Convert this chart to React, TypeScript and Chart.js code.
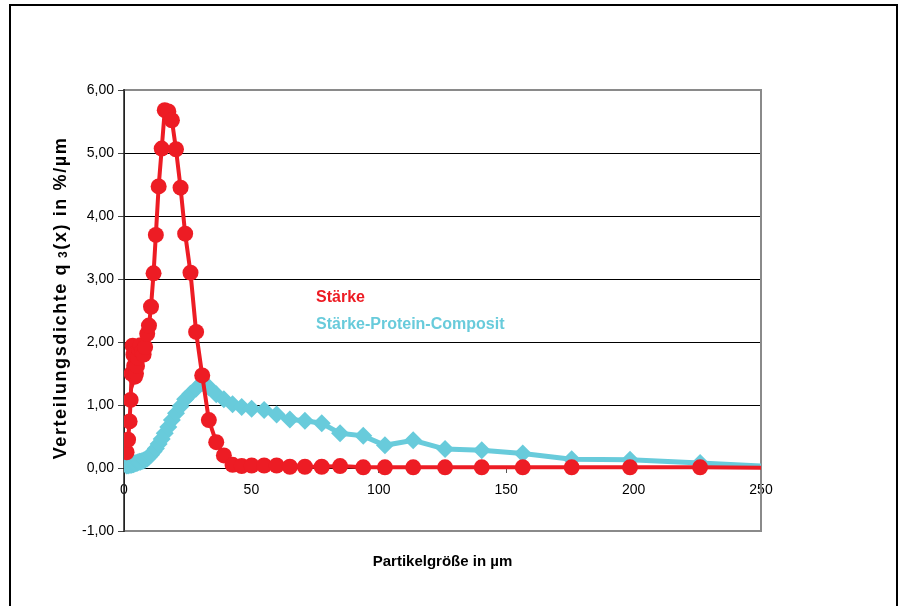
import React, { useEffect, useRef } from 'react';
import { Chart, registerables } from 'chart.js';

Chart.register(...registerables);

// Particle size classes (µm), shared by both series
const particleSizes = [
  1.0, 1.6, 2.2, 2.6, 3.0, 3.4, 3.7, 4.0, 4.3, 4.7, 5.1, 5.5, 6.0, 6.5, 7.1, 7.7,
  8.3, 9.1, 9.8, 10.6, 11.6, 12.5, 13.6, 14.8, 16.0, 17.4, 18.8, 20.4, 22.2, 24.0,
  26.1, 28.3, 30.7, 33.3, 36.2, 39.2, 42.6, 46.2, 50.1, 55.0, 59.9, 65.1, 71.0,
  77.6, 84.8, 93.9, 102.4, 113.5, 126.0, 140.4, 156.5, 175.7, 198.6, 226.1, 257.0,
];

// Stärke q3(x) in %/µm
const starch = [
  0.25, 0.45, 0.74, 1.08, 1.5, 1.94, 1.8, 1.62, 1.45, 1.5, 1.62, 1.75, 1.88, 1.95, 1.85, 1.8,
  1.92, 2.13, 2.26, 2.56, 3.09, 3.7, 4.47, 5.07, 5.68, 5.66, 5.52, 5.06, 4.45, 3.72,
  3.1, 2.16, 1.47, 0.76, 0.41, 0.2, 0.05, 0.03, 0.04, 0.04, 0.04, 0.02, 0.02,
  0.02, 0.03, 0.01, 0.01, 0.01, 0.01, 0.01, 0.01, 0.01, 0.01, 0.01, 0.0,
];

// Stärke-Protein-Composit q3(x) in %/µm
const composite = [
  0.04, 0.04, 0.05, 0.05, 0.05, 0.06, 0.06, 0.07, 0.07, 0.08, 0.08, 0.09, 0.1, 0.1, 0.11, 0.12,
  0.13, 0.15, 0.18, 0.21, 0.26, 0.31, 0.38, 0.46, 0.55, 0.65, 0.76, 0.87, 0.98, 1.09,
  1.18, 1.26, 1.35, 1.28, 1.17, 1.09, 1.01, 0.97, 0.94, 0.92, 0.85, 0.77, 0.75,
  0.71, 0.55, 0.51, 0.36, 0.44, 0.3, 0.28, 0.23, 0.14, 0.13, 0.08, 0.02,
];

const xTicks = [0, 50, 100, 150, 200, 250];
const yTicks = [-1, 0, 1, 2, 3, 4, 5, 6];
const seriesNames = ['Stärke', 'Stärke-Protein-Composit'];
const xTitle = 'Partikelgröße in µm';
const yTitleParts = ['Verteilungsdichte q', '3', '(x) in %/µm'];

const RED = '#ED1C24';
const CYAN = '#68CBDB';
const FONT = "'Liberation Sans', Arial, sans-serif";

const decorPlugin = {
  id: 'decor',
  beforeDraw(chart: any) {
    const ctx = chart.ctx;
    ctx.save();
    ctx.fillStyle = '#ffffff';
    ctx.fillRect(0, 0, chart.width, chart.height);
    ctx.strokeStyle = '#000000';
    ctx.lineWidth = 2;
    ctx.strokeRect(10, 5, 887, 700);
    ctx.restore();
  },
  beforeDatasetsDraw(chart: any) {
    const ctx = chart.ctx;
    const { left, right, top, bottom } = chart.chartArea;
    ctx.save();
    ctx.strokeStyle = '#8a8a8a';
    ctx.lineWidth = 2;
    ctx.beginPath();
    ctx.moveTo(left, top);
    ctx.lineTo(right, top);
    ctx.lineTo(right, bottom);
    ctx.lineTo(left, bottom);
    ctx.stroke();
    ctx.strokeStyle = '#222222';
    ctx.lineWidth = 1.5;
    ctx.beginPath();
    ctx.moveTo(left, top - 1);
    ctx.lineTo(left, bottom + 1);
    ctx.stroke();
    ctx.restore();
  },
  afterDraw(chart: any) {
    const ctx = chart.ctx;
    const { left, top, right, bottom } = chart.chartArea;
    ctx.save();
    // legend texts
    ctx.textBaseline = 'middle';
    ctx.textAlign = 'left';
    ctx.font = `bold 16px ${FONT}`;
    ctx.fillStyle = RED;
    ctx.fillText(seriesNames[0], left + 192, top + 208);
    ctx.fillStyle = CYAN;
    ctx.fillText(seriesNames[1], left + 192, top + 235);

    // x title
    ctx.fillStyle = '#000000';
    ctx.font = `bold 15px ${FONT}`;
    ctx.textAlign = 'center';
    ctx.fillText(xTitle, (left + right) / 2, bottom + 31);

    // y title (rotated, with subscript)
    ctx.translate(61, 298);
    ctx.rotate(-Math.PI / 2);
    const big = `bold 18px ${FONT}`;
    const small = `bold 12px ${FONT}`;
    (ctx as any).letterSpacing = '1.6px';
    ctx.font = big;
    const w1 = ctx.measureText(yTitleParts[0]).width;
    const w3 = ctx.measureText(yTitleParts[2]).width;
    ctx.font = small;
    const w2 = ctx.measureText(' ' + yTitleParts[1]).width;
    const total = w1 + w2 + w3;
    let x = -total / 2;
    ctx.textAlign = 'left';
    ctx.font = big;
    ctx.fillText(yTitleParts[0], x, 0);
    x += w1;
    ctx.font = small;
    ctx.fillText(' ' + yTitleParts[1], x, 3);
    x += w2;
    ctx.font = big;
    ctx.fillText(yTitleParts[2], x, 0);
    ctx.restore();
  },
};

export default function App() {
  const canvasRef = useRef<HTMLCanvasElement | null>(null);

  useEffect(() => {
    const canvas = canvasRef.current;
    if (!canvas) return;
    const toPoints = (ys: number[]) => particleSizes.map((x, i) => ({ x, y: ys[i] }));
    const chart = new Chart(canvas, {
      type: 'scatter',
      data: {
        datasets: [
          {
            label: seriesNames[0],
            data: toPoints(starch),
            showLine: true,
            borderColor: RED,
            backgroundColor: RED,
            borderWidth: 4,
            pointStyle: 'circle',
            pointRadius: 8,
            pointBorderWidth: 0,
            pointBackgroundColor: RED,
            tension: 0,
          },
          {
            label: seriesNames[1],
            data: toPoints(composite),
            showLine: true,
            borderColor: CYAN,
            backgroundColor: CYAN,
            borderWidth: 5,
            pointStyle: 'rectRot',
            pointRadius: 9,
            pointBorderWidth: 0,
            pointBackgroundColor: CYAN,
            tension: 0,
          },
        ],
      },
      options: {
        responsive: false,
        animation: false,
        devicePixelRatio: 1,
        layout: { padding: { left: 0, top: 90, right: 137, bottom: 75 } },
        plugins: {
          legend: { display: false },
          tooltip: { enabled: false },
        },
        scales: {
          x: {
            type: 'linear',
            min: 0,
            max: 250,
            position: { y: 0 } as any,
            afterBuildTicks: (s: any) => {
              s.ticks = xTicks.map((v) => ({ value: v }));
            },
            ticks: {
              color: '#000000',
              font: { family: FONT, size: 14 },
              padding: 10,
              maxRotation: 0,
              callback: (v: any) => String(v),
            },
            grid: {
              display: true,
              drawOnChartArea: false,
              drawTicks: true,
              tickLength: 4,
              tickColor: '#555555',
            },
            border: { display: true, color: '#000000', width: 1 },
            title: { display: false },
          },
          y: {
            type: 'linear',
            min: -1,
            max: 6,
            afterBuildTicks: (s: any) => {
              s.ticks = yTicks.map((v) => ({ value: v }));
            },
            afterFit: (s: any) => {
              s.width = 124;
            },
            ticks: {
              color: '#000000',
              font: { family: FONT, size: 14 },
              padding: 4,
              callback: (v: any) => Number(v).toFixed(2).replace('.', ','),
            },
            grid: {
              color: (c: any) =>
                c.tick && (c.tick.value === 6 || c.tick.value === -1 || c.tick.value === 0)
                  ? 'rgba(0,0,0,0)'
                  : '#000000',
              lineWidth: 1,
              tickLength: 6,
              tickColor: '#444444',
            },
            border: { display: true, color: '#222222', width: 1 },
            title: { display: false },
          },
        },
      },
      plugins: [decorPlugin],
    });
    return () => chart.destroy();
  }, []);

  return (
    <div style={{ position: 'absolute', left: 0, top: 0, width: 898, height: 606 }}>
      <canvas ref={canvasRef} width={898} height={606} style={{ display: 'block', width: 898, height: 606 }} />
    </div>
  );
}
